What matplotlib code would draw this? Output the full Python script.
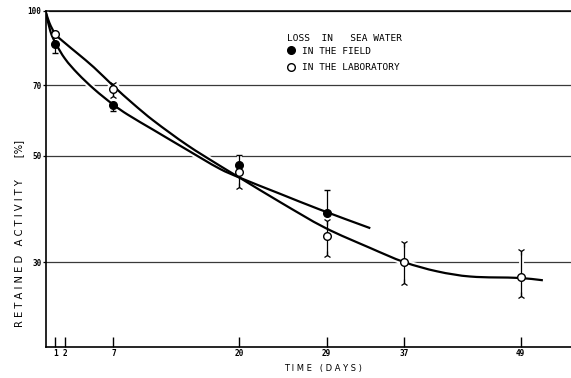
import numpy as np
import matplotlib
matplotlib.use('Agg')
import matplotlib.pyplot as plt
from matplotlib.ticker import FixedLocator, FixedFormatter, NullLocator
from matplotlib.lines import Line2D
from matplotlib.path import Path
from matplotlib.patches import PathPatch

# ---------------- data ----------------
field_days = [1, 7, 20, 29]
field_mean = [85.5, 63.6, 47.9, 38.0]
field_low = [81.7, 61.8, 47.9, 38.0]
field_high = [85.5, 63.6, 50.2, 42.3]

lab_days = [1, 7, 20, 29, 37, 49]
lab_mean = [89.5, 68.7, 46.2, 34.0, 30.0, 28.0]
lab_low = [89.5, 66.6, 43.1, 31.1, 27.2, 25.5]
lab_high = [89.5, 70.6, 46.2, 36.5, 32.9, 31.6]

# fitted curves
field_curve_days = [0, 0.5, 1, 2, 3.3, 5, 7, 8.45, 11.1, 14.6, 18, 20, 24.1, 28.3, 33.5]
field_curve_vals = [100, 90.8, 86.0, 79.6, 74.2, 68.8, 63.8, 60.9, 56.6, 51.4, 46.9, 45.0,
                    41.7, 38.6, 35.3]

lab_curve_days = [0, 0.4, 1, 2, 3.3, 5, 7, 9, 11.1, 14.6, 18, 20, 24.2, 28.8, 33.5,
                  37, 40.4, 43.8, 49, 51.3]
lab_curve_vals = [100, 94.5, 89.6, 85.8, 81.6, 76.3, 69.8, 64.2, 59.2, 52.6, 47.6, 45.0,
                  40.0, 35.4, 32.1, 30.0, 28.7, 28.0, 27.8, 27.5]

x_ticks = [1, 2, 7, 20, 29, 37, 49]
x_tick_labels = ['1', '2', '7', '20', '29', '37', '49']
y_ticks = [30, 50, 70, 100]
y_tick_labels = ['30', '50', '70', '100']

legend_title = 'LOSS  IN   SEA WATER'
field_label = 'IN THE FIELD'
lab_label = 'IN THE LABORATORY'
x_label = 'T I M E   ( D A Y S )'
y_label = 'R E T A I N E D   A C T I V I T Y       [%]'


def smooth_path(xs, ys):
    """Smooth Bezier path (in data coordinates) through the read knots;
    tangents are taken in (x, log y) so the curve is smooth on the log axis."""
    u = np.asarray(xs, float)
    v = np.log10(np.asarray(ys, float))
    n = len(u)
    m = np.empty(n)
    m[0] = (v[1] - v[0]) / (u[1] - u[0])
    m[-1] = (v[-1] - v[-2]) / (u[-1] - u[-2])
    for i in range(1, n - 1):
        m[i] = (v[i + 1] - v[i - 1]) / (u[i + 1] - u[i - 1])
    verts = [(u[0], 10 ** v[0])]
    codes = [Path.MOVETO]
    for i in range(n - 1):
        h = u[i + 1] - u[i]
        verts += [(u[i] + h / 3, 10 ** (v[i] + m[i] * h / 3)),
                  (u[i + 1] - h / 3, 10 ** (v[i + 1] - m[i + 1] * h / 3)),
                  (u[i + 1], 10 ** v[i + 1])]
        codes += [Path.CURVE4] * 3
    return Path(verts, codes)


# ---------------- figure ----------------
W, H = 571, 378
fig = plt.figure(figsize=(W / 100, H / 100), dpi=100)
fig.patch.set_facecolor('white')
left_px, right_px, top_px, bot_px = 45.5, 571, 11, 346.7
ax = fig.add_axes([left_px / W, 1 - bot_px / H, (right_px - left_px) / W, (bot_px - top_px) / H])

ax.set_yscale('log')
ax.set_ylim(20, 100)
ax.set_xlim(0, 54.2)

ax.yaxis.set_major_locator(FixedLocator(y_ticks))
ax.yaxis.set_major_formatter(FixedFormatter(y_tick_labels))
ax.yaxis.set_minor_locator(NullLocator())
ax.grid(axis='y', color='#3a3a3a', lw=0.9, zorder=0)
ax.set_axisbelow(True)

ax.xaxis.set_major_locator(FixedLocator(x_ticks))
ax.xaxis.set_major_formatter(FixedFormatter(x_tick_labels))
ax.xaxis.set_minor_locator(NullLocator())

ax.tick_params(axis='x', direction='in', length=7.5, width=1.0, pad=1.5,
               labelsize=5.6, labelfontfamily='DejaVu Sans Mono')
ax.tick_params(axis='y', direction='out', length=2, width=0.9, pad=1.0,
               labelsize=5.5, labelfontfamily='DejaVu Sans Mono')
for lab in ax.get_xticklabels() + ax.get_yticklabels():
    lab.set_fontweight('bold')

for s in ['left', 'bottom']:
    ax.spines[s].set_linewidth(1.2)
ax.spines['top'].set_linewidth(1.1)
ax.spines['right'].set_visible(False)

field_path = smooth_path(field_curve_days, field_curve_vals)
lab_path = smooth_path(lab_curve_days, lab_curve_vals)

# ---------------- white halos (break the grid lines) ----------------
for p in (field_path, lab_path):
    ax.add_patch(PathPatch(p, fill=False, edgecolor='white', lw=4.5, zorder=2,
                           capstyle='butt'))
ax.vlines(field_days, field_low, field_high, colors='white', lw=3.5, zorder=2)
ax.vlines(lab_days, lab_low, lab_high, colors='white', lw=3.5, zorder=2)
ax.plot(lab_days, lab_mean, 'o', ms=9, mfc='white', mec='white', zorder=2)
ax.plot(field_days, field_mean, 'o', ms=9, mfc='white', mec='white', zorder=2)

# ---------------- fitted curves ----------------
for p in (field_path, lab_path):
    ax.add_patch(PathPatch(p, fill=False, edgecolor='black', lw=1.6, zorder=3,
                           capstyle='butt'))

# ---------------- error bars ----------------
ax.vlines(field_days, field_low, field_high, colors='black', lw=0.9, zorder=3)
ax.vlines(lab_days, lab_low, lab_high, colors='black', lw=0.9, zorder=3)

fh = [(d, h) for d, m, h in zip(field_days, field_mean, field_high) if h > m]
fl = [(d, l) for d, m, l in zip(field_days, field_mean, field_low) if l < m]
lh = [(d, h) for d, m, h in zip(lab_days, lab_mean, lab_high) if h > m]
ll = [(d, l) for d, m, l in zip(lab_days, lab_mean, lab_low) if l < m]
ax.plot([p[0] for p in fh], [p[1] for p in fh], ls='none', marker='_', ms=5, mew=1.0,
        color='black', zorder=3)
ax.plot([p[0] for p in fl], [p[1] for p in fl], ls='none', marker='_', ms=5, mew=1.0,
        color='black', zorder=3)
ax.plot([p[0] for p in lh], [p[1] for p in lh], ls='none', marker='1', ms=6, mew=0.9,
        color='black', zorder=3)
ax.plot([p[0] for p in ll], [p[1] for p in ll], ls='none', marker='2', ms=6, mew=0.9,
        color='black', zorder=3)

# ---------------- data points ----------------
ax.plot(field_days, field_mean, ls='none', marker='o', ms=5.5, mfc='black', mec='black',
        zorder=4)
ax.plot(lab_days, lab_mean, ls='none', marker='o', ms=5.5, mfc='white', mec='black',
        mew=1.0, zorder=5)

# ---------------- legend ----------------
h_field = Line2D([], [], ls='none', marker='o', ms=5.5, mfc='black', mec='black')
h_lab = Line2D([], [], ls='none', marker='o', ms=5.5, mfc='white', mec='black', mew=1.0)
leg = ax.legend([h_field, h_lab], [field_label, lab_label], loc='upper left',
                bbox_to_anchor=(286.7 / W, 1 - 46.6 / H), bbox_transform=fig.transFigure,
                frameon=False, prop={'family': 'DejaVu Sans Mono', 'size': 6.8},
                handlelength=0.95, handletextpad=0.62, labelspacing=0.8,
                borderpad=0, borderaxespad=0)
fig.text(286.7 / W, 1 - 38.3 / H, legend_title, ha='left', va='center',
         family='DejaVu Sans Mono', fontsize=6.8)

# ---------------- axis labels ----------------
ax.set_xlabel(x_label, fontsize=6, family='DejaVu Sans')
ax.xaxis.set_label_coords((322.5 - left_px) / (right_px - left_px),
                          -(363.5 - bot_px) / (bot_px - top_px))
ax.set_ylabel(y_label, fontsize=7.2, family='DejaVu Sans')
ax.yaxis.set_label_coords(-(45.5 - 24) / (right_px - left_px),
                          (bot_px - 233.5) / (bot_px - top_px))

fig.savefig('out.png', dpi=100, facecolor='white')
